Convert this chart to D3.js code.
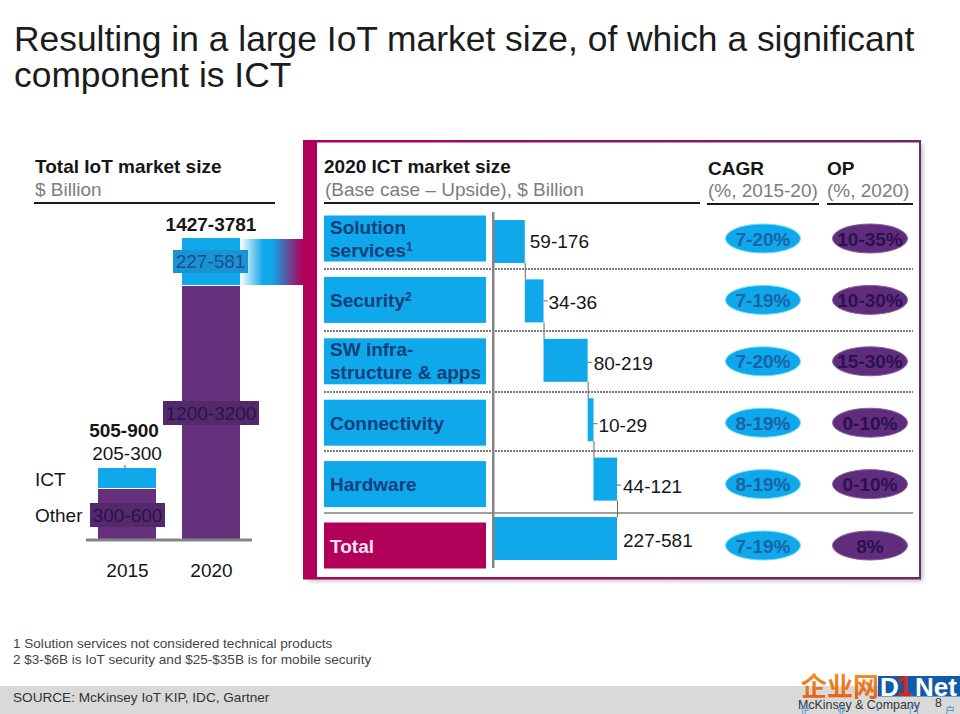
<!DOCTYPE html>
<html><head><meta charset="utf-8">
<script src="https://cdnjs.cloudflare.com/ajax/libs/d3/7.8.5/d3.min.js"></script>
<style>
html,body{margin:0;padding:0;background:#fff;overflow:hidden}
svg{display:block}
text{font-family:"Liberation Sans",Arial,sans-serif}
</style></head><body>
<svg id="c" width="960" height="714"></svg>
<script>
// ---- data ----
const titleLines = ["Resulting in a large IoT market size, of which a significant","component is ICT"];
const years = ["2015","2020"];
const totalLabels = ["505-900","1427-3781"];
const otherValues = [638,3175];      // drawn height
const ictValues = [262,600];
const otherLabels = ["300-600","1200-3200"];
const ictLabels = ["205-300","227-581"];
const segments = ["Solution services","Security","SW infra-structure & apps","Connectivity","Hardware"];
const segmentLines = [["Solution","services"],["Security"],["SW infra-","structure & apps"],["Connectivity"],["Hardware"]];
const segmentSup = ["1","2","","",""];
const segmentValues = [148,90,212,28,113];  // drawn width
const segmentLabels = ["59-176","34-36","80-219","10-29","44-121"];
const totalRow = "Total";
const totalLabel = "227-581";
const cagr = ["7-20%","7-19%","7-20%","8-19%","8-19%","7-19%"];
const op = ["10-35%","10-30%","15-30%","0-10%","0-10%","8%"];
const footnotes = ["1 Solution services not considered technical products","2 $3-$6B is IoT security and $25-$35B is for mobile security"];

// ---- palette ----
const BLUE="#0fa8ea", PURPLE="#66307c", MAG="#b00058", INK="#161616", GREY="#7d7d7d",
      BLUETXT="#1a63a6", PURPTXT="#2c1050", BOXTXT="#103f7c";

const svg=d3.select("#c");
const defs=svg.append("defs");
const g1=defs.append("linearGradient").attr("id","link");
[[0,"#ffffff"],[.36,BLUE],[.5,BLUE],[.95,"#a5095f"],[1,MAG]].forEach(s=>g1.append("stop").attr("offset",s[0]).attr("stop-color",s[1]));
const g2=defs.append("linearGradient").attr("id","frameTop");
[[0,MAG],[1,"#6a2a62"]].forEach(s=>g2.append("stop").attr("offset",s[0]).attr("stop-color",s[1]));
defs.append("filter").attr("id","blur").append("feGaussianBlur").attr("stdDeviation",2.2);
const g3=defs.append("linearGradient").attr("id","logo").attr("x1",0).attr("x2",0).attr("y1",0).attr("y2",1);
[[0,"#f4a12a"],[1,"#e2560f"]].forEach(s=>g3.append("stop").attr("offset",s[0]).attr("stop-color",s[1]));

function txt(p,x,y,s,o={}){return p.append("text").attr("x",x).attr("y",y).text(s)
  .attr("font-size",o.size||19).attr("font-weight",o.bold?"bold":"normal").attr("fill",o.fill||INK)
  .attr("text-anchor",o.anchor||"start");}
function hr(p,x1,x2,y,w,c,dash){const l=p.append("line").attr("x1",x1).attr("x2",x2).attr("y1",y).attr("y2",y).attr("stroke",c).attr("stroke-width",w);if(dash)l.attr("stroke-dasharray",dash);return l;}

// title
titleLines.forEach((t,i)=>txt(svg,14,51+i*36,t,{size:35.4,fill:"#1c1c1c"}));

// ---- left stacked chart ----
const xL=d3.scalePoint().domain(years).range([127,211]);
const yL=d3.scaleLinear().domain([0,3775]).range([540,238]);
const barW=58;
txt(svg,35,172.5,"Total IoT market size",{bold:true});
txt(svg,35,196,"$ Billion",{fill:GREY});
hr(svg,34,275,203,2,"#1a1a1a");

const left=years.map((y,i)=>({y,other:otherValues[i],ict:ictValues[i]}));
svg.append("rect").attr("x",240).attr("y",239).attr("width",64).attr("height",46).attr("fill","url(#link)");
svg.selectAll(".o").data(left).join("rect").attr("x",d=>xL(d.y)-barW/2).attr("width",barW)
  .attr("y",d=>yL(d.other)).attr("height",d=>yL(0)-yL(d.other)).attr("fill",PURPLE);
svg.selectAll(".i").data(left).join("rect").attr("x",d=>xL(d.y)-barW/2).attr("width",barW)
  .attr("y",d=>yL(d.other+d.ict)).attr("height",d=>yL(d.other)-yL(d.other+d.ict)-1).attr("fill",BLUE);
hr(svg,86,252,540,3,"#858585");
const axisL=svg.append("g").attr("transform","translate(0,577)")
  .call(d3.axisBottom(xL).tickSize(0).tickPadding(0));
axisL.select(".domain").remove();
axisL.selectAll("text").attr("y",0).attr("dy",0).attr("font-size",19).attr("font-family",'"Liberation Sans",Arial,sans-serif').attr("fill",INK);

svg.append("line").attr("x1",125).attr("x2",125).attr("y1",465).attr("y2",468).attr("stroke","#555");
txt(svg,124,437,totalLabels[0],{bold:true,anchor:"middle"});
txt(svg,211,231,totalLabels[1],{bold:true,anchor:"middle"});
txt(svg,127,460,ictLabels[0],{anchor:"middle"});
svg.append("rect").attr("x",173).attr("y",250).attr("width",75).attr("height",23).attr("fill","#1b92d2");
txt(svg,210.5,268,ictLabels[1],{anchor:"middle",fill:"#174f93"});
svg.append("rect").attr("x",163).attr("y",401).attr("width",96).attr("height",24).attr("fill","#522a6c");
txt(svg,211,420,otherLabels[1],{anchor:"middle",fill:"#2e1050"});
svg.append("rect").attr("x",90).attr("y",503).attr("width",75).attr("height",24).attr("fill","#522a6c");
txt(svg,127.5,522,otherLabels[0],{anchor:"middle",fill:"#2e1050"});
txt(svg,35,486,"ICT");
txt(svg,35,522,"Other");

// ---- frame ----
svg.append("rect").attr("x",308).attr("y",144).attr("width",615).attr("height",437).attr("fill","#8a8a8a").attr("opacity",.55).attr("filter","url(#blur)");
svg.append("rect").attr("x",303).attr("y",140).attr("width",618).attr("height",439).attr("fill","#fff");
svg.append("rect").attr("x",303).attr("y",140).attr("width",618).attr("height",2.5).attr("fill","url(#frameTop)");
svg.append("rect").attr("x",919).attr("y",140).attr("width",2).attr("height",439).attr("fill","#6a2a62");
svg.append("rect").attr("x",303).attr("y",577).attr("width",618).attr("height",2.5).attr("fill","url(#frameTop)");
svg.append("rect").attr("x",303).attr("y",140).attr("width",14).attr("height",439).attr("fill",MAG);

// headers
txt(svg,324,173,"2020 ICT market size",{bold:true});
txt(svg,325,196,"(Base case – Upside), $ Billion",{fill:GREY});
hr(svg,324,700,203,2,"#1a1a1a");
txt(svg,708,175,"CAGR",{bold:true});
txt(svg,708,197,"(%, 2015-20)",{fill:GREY});
hr(svg,707,819,204,2,"#1a1a1a");
txt(svg,827,175,"OP",{bold:true});
txt(svg,827,197,"(%, 2020)",{fill:GREY});
hr(svg,827,913,204,2,"#1a1a1a");

// ---- waterfall ----
const rows=[...segments,totalRow];
const yBox=d3.scalePoint().domain(rows).range([238.5,545.5]);
const yBar=d3.scalePoint().domain(rows).range([241.5,538.5]);
const grand=d3.sum(segmentValues);
const xW=d3.scaleLinear().domain([0,grand]).range([494,617]);
let cum=0;
const wf=segments.map((s,i)=>{const d={name:s,start:cum,end:cum+segmentValues[i],label:segmentLabels[i],lines:segmentLines[i],sup:segmentSup[i]};cum=d.end;return d;});

// separators
[269,331,392,451].forEach(y=>hr(svg,324,913,y,2.2,"#7a7a7a","2 1"));
hr(svg,324,913,513,1.3,"#7f7f7f");

// label boxes
svg.selectAll(".lb").data(rows).join("rect").attr("x",324).attr("width",162)
  .attr("y",d=>yBox(d)-23).attr("height",46).attr("fill",d=>d===totalRow?MAG:BLUE);
wf.forEach(d=>{
  const n=d.lines.length, yc=yBox(d.name);
  d.lines.forEach((l,i)=>{
    const t=txt(svg,330,yc+7+(i-(n-1)/2)*23-(n>1?.5:0),l,{bold:true,fill:BOXTXT});
    if(i===n-1&&d.sup) t.append("tspan").attr("dy",-6).attr("font-size",12).attr("font-weight","bold").text(d.sup);
  });
});
txt(svg,330,yBox(totalRow)+7,totalRow,{bold:true,fill:"#ffe3f3"});

// bars
const barH=43;
svg.selectAll(".wf").data(wf).join("rect").attr("x",d=>xW(d.start)).attr("width",d=>xW(d.end)-xW(d.start))
  .attr("y",d=>yBar(d.name)-barH/2).attr("height",barH).attr("fill",BLUE);
svg.append("rect").attr("x",xW(0)).attr("width",xW(grand)-xW(0)).attr("y",yBar(totalRow)-barH/2).attr("height",barH).attr("fill",BLUE);
// connectors
wf.forEach((d,i)=>{
  const next=i<wf.length-1?wf[i+1].name:totalRow;
  svg.append("line").attr("x1",xW(d.end)+.5).attr("x2",xW(d.end)+.5)
    .attr("y1",yBar(d.name)+barH/2).attr("y2",yBar(next)-barH/2).attr("stroke","#666").attr("stroke-width",1);
  if(i>0) svg.append("line").attr("x1",xW(d.end)).attr("x2",xW(d.end)+4)
    .attr("y1",yBox(d.name)+1).attr("y2",yBox(d.name)+1).attr("stroke","#666");
});
svg.append("rect").attr("x",492).attr("y",212).attr("width",2.5).attr("height",356).attr("fill","#858585");
// value labels
const lblOff=[5,5,6,5,6];
wf.forEach((d,i)=>txt(svg,xW(d.end)+lblOff[i],yBox(d.name)+9,d.label));
txt(svg,623,yBox(totalRow)+1,totalLabel);

// ---- ellipses ----
function pills(vals,cx,fill,tfill,glow){
  svg.selectAll(null).data(vals).join("ellipse").attr("cx",cx).attr("cy",(d,i)=>yBox(rows[i])).attr("rx",37.5).attr("ry",14.5)
    .attr("fill",fill).attr("stroke",glow).attr("stroke-width",1);
  svg.selectAll(null).data(vals).join("text").attr("x",cx).attr("y",(d,i)=>yBox(rows[i])+7).attr("text-anchor","middle")
    .attr("font-size",19).attr("font-weight","bold").attr("fill",tfill).text(d=>d);
}
pills(cagr,763,BLUE,BLUETXT,"#6fdcff");
pills(op,870,"#5f2d7b",PURPTXT,"#8a5f9e");

// ---- footer ----
footnotes.forEach((t,i)=>txt(svg,13,648+i*16,t,{size:13.55,fill:"#444"}));
svg.append("rect").attr("x",0).attr("y",686).attr("width",960).attr("height",28).attr("fill","#d9d9d9");
txt(svg,13,702,"SOURCE: McKinsey IoT KIP, IDC, Gartner",{size:13.6,fill:"#333"});

// watermark
const cjk='"Noto Sans CJK SC"';
txt(svg,801,696,"企业网",{size:26,bold:true,fill:"url(#logo)"}).style("font-family",cjk);
svg.append("rect").attr("x",878).attr("y",676).attr("width",82).attr("height",20.5).attr("fill","#0f5cab");
txt(svg,880,696,"D",{size:26,bold:true,fill:"#fff"});
txt(svg,896,696,"1",{size:30,bold:true,fill:"#d8261c"});
txt(svg,915,696,"Net",{size:26,bold:true,fill:"#fff"});
txt(svg,798,709,"McKinsey & Company",{size:12.4,fill:"#333"});
txt(svg,935,707,"8",{size:12.4,fill:"#333"});
txt(svg,800,713.5,"企 业 · 门 户",{size:10,fill:"#3c8fd6"}).style("font-family",cjk).attr("word-spacing",24);
</script>
</body></html>
